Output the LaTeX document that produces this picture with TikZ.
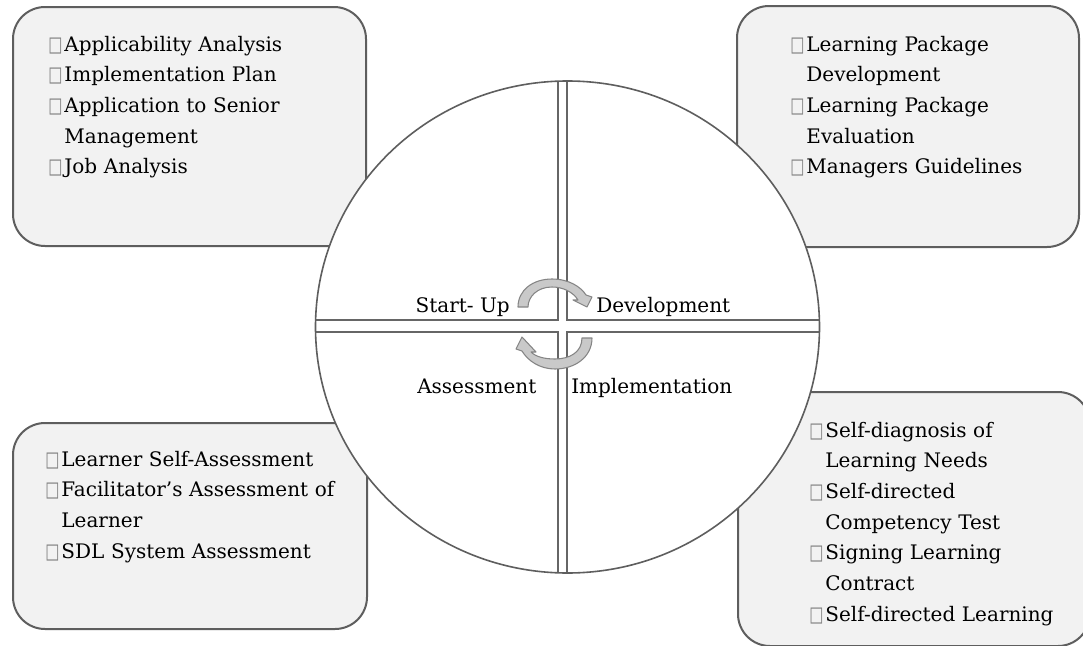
\documentclass[tikz,border=0pt]{standalone}
\usepackage{fontspec}
\usepackage{graphicx}
\setmainfont{DejaVu Serif}
\newfontfamily\symfont{DejaVu Sans}
\definecolor{boxfill}{HTML}{F2F2F2}
\definecolor{edgegray}{HTML}{5E5E5E}
\definecolor{crossgray}{HTML}{666666}
\definecolor{arrowfill}{HTML}{C9C9C9}
\definecolor{arrowedge}{HTML}{858585}
\newcommand{\bul}{{\symfont\color{gray}\scalebox{0.75}[1.05]{□}}\hspace{1.5pt}}
\newcommand{\ind}{\phantom{\bul}}
\tikzset{
  panel/.style={draw=edgegray, line width=1.5pt, fill=boxfill, rounded corners=24pt},
  ring/.style={draw=edgegray, line width=1.2pt},
  crossline/.style={draw=crossgray, line width=0.8pt},
  cyc/.style={draw=arrowedge, line width=0.8pt, fill=arrowfill, line join=round},
  list/.style={anchor=base west, inner sep=0pt, align=left, text width=300pt,
    font=\fontsize{15}{23}\selectfont},
  lbl/.style={inner sep=0pt, font=\fontsize{15}{18}\selectfont}
}
\begin{document}
\begin{tikzpicture}[x=0.75pt,y=0.75pt]
\useasboundingbox (0,0) rectangle (1083,-646);
\fill[white] (0,0) rectangle (1083,-646);
\begin{scope}
\clip (0,0) rectangle (1083,-646);
\draw[panel] (13,-7) rectangle (366,-246);
\draw[panel] (737,-6) rectangle (1079,-247);
\draw[panel] (13,-423) rectangle (367,-629);
\draw[panel] (738,-392) rectangle (1090,-646);
\end{scope}
% circle
\fill[white] (567.5,-327) ellipse [x radius=189pt, y radius=184.5pt];
\begin{scope}
\clip (567.5,-327) ellipse [x radius=189pt, y radius=184.5pt];
\draw[crossline] (558,-60) -- (558,-320) -- (300,-320);
\draw[crossline] (567,-60) -- (567,-320) -- (840,-320);
\draw[crossline] (558,-600) -- (558,-332) -- (300,-332);
\draw[crossline] (567,-600) -- (567,-332) -- (840,-332);
\end{scope}
\draw[ring] (567.5,-327) ellipse [x radius=189pt, y radius=184.5pt];
% cycle arrows
\draw[cyc] (518,-307) .. controls (518,-290) and (533,-279) .. (552,-279)
  .. controls (569,-279) and (581,-287) .. (586,-295) -- (592,-297) -- (587,-307)
  -- (573,-300) -- (578,-300) .. controls (573,-292) and (563,-287) .. (552,-287)
  .. controls (537,-287) and (528,-297) .. (528,-307) -- cycle;
\draw[cyc] (592,-338) .. controls (592,-357) and (575,-369) .. (555,-369)
  .. controls (540,-369) and (528,-361) .. (522,-351) -- (516,-349) -- (522,-337)
  -- (536,-352) -- (531,-352) .. controls (536,-357) and (545,-359) .. (555,-359)
  .. controls (570,-359) and (582,-352) .. (582,-338) -- cycle;
% quadrant labels
\node[lbl, anchor=base east] (startup) at (510,-312) {Start- Up};
\node[lbl, anchor=base west] (develop) at (596,-312) {Development};
\node[lbl, anchor=base west] (assess) at (417,-393) {Assessment};
\node[lbl, anchor=base west] (implem) at (571,-393) {Implementation};
% lists
\node[list] (tltext) at (48,-51) {\bul Applicability Analysis\\ \bul Implementation Plan\\ \bul Application to Senior\\ \ind Management\\ \bul Job Analysis};
\node[list] (trtext) at (790,-51) {\bul Learning Package\\ \ind Development\\ \bul Learning Package\\ \ind Evaluation\\ \bul Managers Guidelines};
\node[list] (bltext) at (45,-466) {\bul Learner Self-Assessment\\ \bul Facilitator’s Assessment of\\ \ind Learner\\ \bul SDL System Assessment};
\node[list] (brtext) at (809,-437) {\bul Self-diagnosis of\\ \ind Learning Needs\\ \bul Self-directed\\ \ind Competency Test\\ \bul Signing Learning\\ \ind Contract\\ \bul Self-directed Learning};
\end{tikzpicture}
\end{document}
